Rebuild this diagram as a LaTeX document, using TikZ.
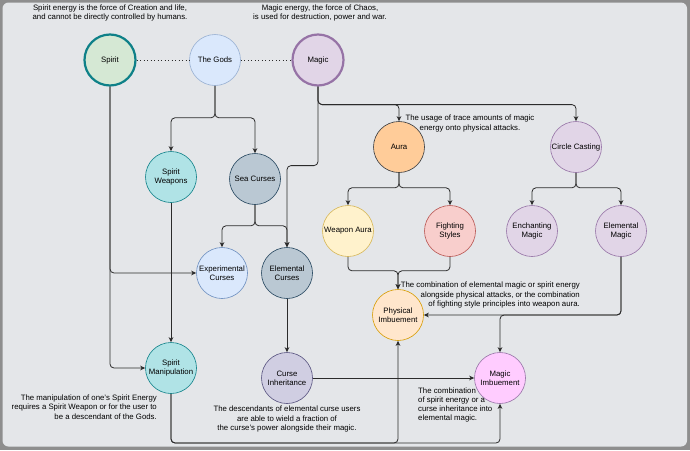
\documentclass[tikz,border=0pt]{standalone}
\usepackage{fontspec}
\setmainfont{Liberation Sans}
\usepackage{tikz}
\usetikzlibrary{positioning, arrows.meta, calc}
\definecolor{mFrame}{HTML}{8E8E8E}
\definecolor{mBack}{HTML}{E4E6E9}
\definecolor{mLine}{HTML}{2B2B2B}
\definecolor{mTeal}{HTML}{0E8088}
\definecolor{mTealL}{HTML}{B0E3E6}
\definecolor{mGreenL}{HTML}{D5E8D4}
\definecolor{mBlue}{HTML}{6C8EBF}
\definecolor{mBlueL}{HTML}{DAE8FC}
\definecolor{mSlate}{HTML}{23445D}
\definecolor{mSlateL}{HTML}{BAC8D3}
\definecolor{mPurple}{HTML}{9673A6}
\definecolor{mPurpleL}{HTML}{E1D5E7}
\definecolor{mDark}{HTML}{36393D}
\definecolor{mOrangeL}{HTML}{FFCC99}
\definecolor{mYellow}{HTML}{D6B656}
\definecolor{mYellowL}{HTML}{FFF2CC}
\definecolor{mRed}{HTML}{B85450}
\definecolor{mRedL}{HTML}{F8CECC}
\definecolor{mAmber}{HTML}{D79B00}
\definecolor{mAmberL}{HTML}{FFE6CC}
\definecolor{mPinkL}{HTML}{FFCCFF}
\definecolor{mIndigo}{HTML}{56517E}
\definecolor{mIndigoL}{HTML}{D0CEE2}

\begin{document}
\begin{tikzpicture}[x=1pt, y=-1pt,
  circ/.style={circle, draw, minimum size=51pt, inner sep=0pt, align=center,
               line width=0.6pt, font=\fontsize{7.8}{9.3}\selectfont},
  thickcirc/.style={circ, line width=2.2pt},
  note/.style={inner sep=0pt, font=\fontsize{7.8}{9.3}\selectfont},
  link/.style={draw=mLine, line width=0.8pt, rounded corners=4pt,
               -{Stealth[length=5pt, width=4.6pt, inset=1.4pt]}},
  tie/.style={draw=mLine, line width=0.9pt, dash pattern=on 0.9pt off 2.6pt},
]
  % frame
  \fill[mFrame] (0,0) rectangle (690,450);
  \fill[mBack, rounded corners=6pt] (2.5,2.5) rectangle (687,446.5);
  \useasboundingbox (0,0) rectangle (690,450);

  % top row: the two energies and the gods
  \node[thickcirc, fill=mGreenL, draw=mTeal] (spirit) at (110,60) {Spirit};
  \node[circ, fill=mBlueL, draw=mBlue!70!white] (gods) at (215,60) {The Gods};
  \node[thickcirc, fill=mPurpleL, draw=mPurple] (magic) at (318,60) {Magic};
  \draw[tie] (spirit) -- (gods);
  \draw[tie] (gods) -- (magic);

  % everything below
  \foreach \nm/\x/\y/\fc/\dc/\lab in {
      sweap/171/177/mTealL/mTeal/{Spirit\\Weapons},
      sea/255/179/mSlateL/mSlate/{Sea Curses},
      expc/222/273/mBlueL/mBlue/{Experimental\\Curses},
      elemc/287/273/mSlateL/mSlate/{Elemental\\Curses},
      aura/399/147/mOrangeL/mDark/{Aura},
      casting/576/147/mPurpleL/mPurple/{Circle Casting},
      waura/348/231/mYellowL/mYellow/{Weapon Aura},
      fight/450/231/mRedL/mRed/{Fighting\\Styles},
      ench/532/231/mPurpleL/mPurple/{Enchanting\\Magic},
      elemm/621/231/mPurpleL/mPurple/{Elemental\\Magic},
      phys/398/315/mAmberL/mAmber/{Physical\\Imbuement},
      magimb/500/378/mPinkL/mPurple/{Magic\\Imbuement},
      sman/171/368/mTealL/mTeal/{Spirit\\Manipulation},
      curse/287/378/mIndigoL/mIndigo/{Curse\\Inheritance}} {
    \node[circ, fill=\fc, draw=\dc] (\nm) at (\x,\y) {\lab};
  }

  % notes
  \node[note, align=center] (spiritnote) at (110,13)
    {Spirit energy is the force of Creation and life,\\and cannot be directly controlled by humans.};
  \node[note, align=center] (magicnote) at (320,13)
    {Magic energy, the force of Chaos,\\is used for destruction, power and war.};
  \node[note, align=center] (auranote) at (470,123.5)
    {The usage of trace amounts of magic\\energy onto physical attacks.};
  \node[note, align=right, anchor=east] (physnote) at (580,295)
    {The combination of elemental magic or spirit energy\\alongside physical attacks, or the combination\\of fighting style principles into weapon aura.};
  \node[note, align=right, anchor=east] (smannote) at (157,407)
    {The manipulation of one's Spirit Energy\\requires a Spirit Weapon or for the user to\\be a descendant of the Gods.};
  \node[note, align=center] (cursenote) at (287,419)
    {The descendants of elemental curse users\\are able to wield a fraction of\\the curse's power alongside their magic.};
  \node[note, align=left, anchor=west] (imbnote) at (418,405)
    {The combination\\of spirit energy or a\\curse inheritance into\\elemental magic.};

  % splits down the tree
  \foreach \src/\dy/\dst in {gods/32/sweap, gods/32/sea, sea/21/expc, sea/21/elemc,
      magic/18/aura, magic/18/casting, aura/15/waura, aura/15/fight,
      casting/15/ench, casting/15/elemm, waura/14/phys, fight/14/phys} {
    \draw[link] (\src.south) -- ++(0,\dy) -| (\dst.north);
  }
  \draw[link] (magic.south) -- ++(0,79) -| (elemc.north);
  \draw[link] (spirit.south) |- (expc.west);
  \draw[link] (spirit.south) |- (sman.west);
  \draw[link] (sweap) -- (sman);
  \draw[link] (elemc) -- (curse);
  \draw[link] (curse) -- (magimb);
  \draw[link] (elemm.south) |- (phys.east);
  \draw[link] (elemm.south) |- (magimb.north |- phys.east) -- (magimb.north);

  % bottom run
  \coordinate (base) at (0,443);
  \draw[link] (sman.south) -- (sman.south |- base) -| (phys.south);
  \draw[link] (sman.south) -- (sman.south |- base) -| (magimb.south);
\end{tikzpicture}
\end{document}
